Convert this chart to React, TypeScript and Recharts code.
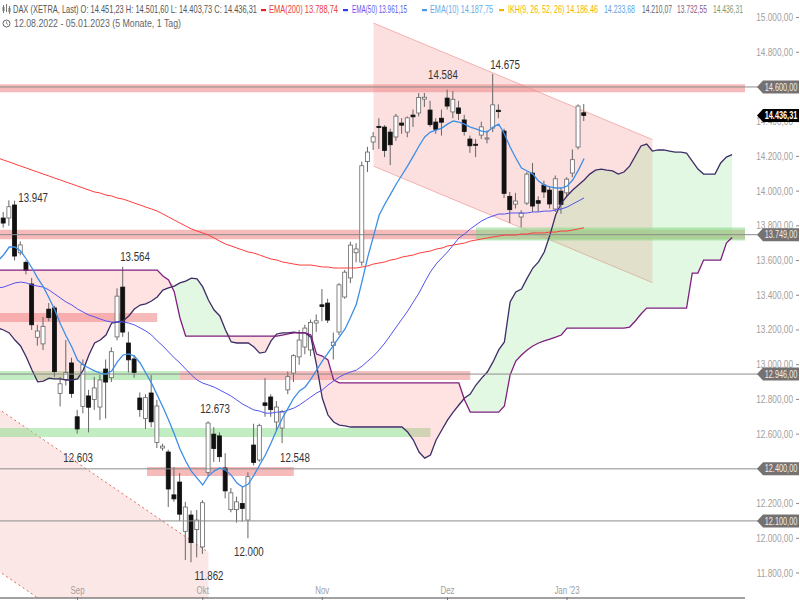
import React from "react";
import {
  ComposedChart,
  XAxis,
  YAxis,
  Bar,
  Line,
  Area,
  ReferenceArea,
  ReferenceLine,
  ReferenceDot,
} from "recharts";

// daily candles 12.08.2022 - 05.01.2023 (index 0 = 12.08.)
const OPEN = [
  13730, 13845, 13845, 13920, 13645, 13590, 13465, 13158, 13120, 13320,
  13327, 12835, 12915, 13010, 12700, 12760, 12820, 12800, 12756, 12975,
  12925, 13160, 13447, 13125, 13033, 12808, 12690, 12837, 12552, 12520,
  12497, 12250, 12324, 12040, 12134, 12050, 11950, 12380, 12600, 12590,
  12405, 12165, 12165, 12200, 12105, 12537, 12451, 12780, 12814, 12670,
  12635, 12855, 12952, 13045, 13102, 13085, 13240, 13345, 13355, 13110,
  13188, 13390, 13500, 13645, 13591, 14170, 14283, 14373, 14369, 14340,
  14312, 14392, 14340, 14438, 14450, 14530, 14467, 14398, 14420, 14536,
  14456, 14479, 14410, 14300, 14270, 14323, 14300, 14363, 14466, 14346,
  13970, 13925, 13851, 13931, 14104, 13945, 14035, 14006, 13897, 14000,
  13990, 14104, 14254, 14451.23,
];
const HIGH = [
  13800, 13880, 13947, 13945, 13710, 13600, 13500, 13230, 13275, 13355,
  13340, 12930, 13142, 13040, 12740, 13030, 12855, 12930, 12941, 13030,
  13100, 13440, 13564, 13190, 13056, 12840, 12830, 12940, 12797, 12545,
  12510, 12410, 12376, 12210, 12160, 12163, 12220, 12673, 12640, 12610,
  12490, 12290, 12240, 12295, 12380, 12660, 12660, 12923, 12830, 12790,
  12740, 12960, 13060, 13200, 13230, 13260, 13290, 13436, 13380, 13185,
  13470, 13545, 13708, 13700, 14170, 14255, 14340, 14420, 14380, 14360,
  14445, 14420, 14430, 14470, 14565, 14565, 14520, 14420, 14470, 14584,
  14576, 14520, 14440, 14320, 14300, 14400, 14350, 14675, 14500, 14360,
  13995, 13990, 13890, 14110, 14162, 13970, 14060, 14030, 14090, 14020,
  14080, 14240, 14500, 14501.6,
];
const LOW = [
  13700, 13790, 13800, 13600, 13630, 13520, 13200, 13110, 13085, 13250,
  12930, 12760, 12880, 12810, 12603, 12720, 12610, 12740, 12681, 12690,
  12900, 13140, 13160, 12955, 12925, 12700, 12630, 12640, 12520, 12505,
  12180, 12210, 12100, 11875, 11862, 11890, 11910, 12360, 12440, 12440,
  12230, 12150, 12090, 12095, 12000, 12420, 12440, 12700, 12700, 12620,
  12548, 12830, 12900, 13000, 13060, 13050, 13190, 13250, 13240, 13030,
  13170, 13380, 13470, 13590, 13570, 14110, 14237, 14243, 14196, 14150,
  14290, 14330, 14310, 14370, 14430, 14485, 14370, 14330, 14320, 14470,
  14420, 14410, 14320, 14220, 14196, 14300, 14275, 14340, 14420, 13960,
  13816, 13900, 13792, 13920, 13880, 13880, 13960, 13900, 13880, 13870,
  13970, 14080, 14240, 14403.73,
];
const CLOSE = [
  13775, 13816, 13910, 13626, 13690, 13544, 13230, 13194, 13221, 13271,
  12960, 12890, 12955, 12834, 12630, 13000, 12755, 12866, 12912, 12900,
  13075, 13395, 13188, 13028, 12956, 12741, 12810, 12671, 12762, 12531,
  12284, 12227, 12139, 12180, 11975, 12105, 12205, 12664, 12517, 12470,
  12273, 12262, 12210, 12172, 12355, 12437, 12649, 12765, 12741, 12756,
  12731, 12931, 13052, 13142, 13211, 13243, 13253, 13335, 13257, 13130,
  13460, 13533, 13689, 13667, 14146, 14225, 14313, 14366, 14234, 14267,
  14432, 14380, 14422, 14428, 14539, 14541, 14383, 14356, 14397, 14490,
  14529, 14448, 14343, 14261, 14264, 14370, 14306, 14497, 14458, 13987,
  13893, 13943, 13873, 14098, 13914, 13930, 13995, 13926, 14071, 13924,
  14069, 14181, 14490, 14436.31,
];

const EMA10 = [
  13597, 13632, 13678, 13678, 13655, 13609, 13557, 13499, 13448, 13384,
  13315, 13234, 13165, 13102, 13027, 12998, 12981, 12964, 12952, 12946,
  12964, 13016, 13056, 13062, 13050, 13010, 12952, 12894, 12825, 12756,
  12681, 12601, 12514, 12445, 12387, 12347, 12307, 12359, 12387, 12405,
  12393, 12364, 12318, 12295, 12312, 12364, 12422, 12480, 12549, 12624,
  12693, 12750, 12808, 12849, 12872, 12917, 12969, 13021, 13067, 13113,
  13160, 13206, 13275, 13350, 13482, 13621, 13741, 13862, 13926, 13983,
  14041, 14093, 14145, 14202, 14260, 14312, 14340, 14352, 14363, 14386,
  14404, 14398, 14386, 14369, 14358, 14346, 14340, 14369, 14386, 14329,
  14254, 14191, 14133, 14116, 14098, 14058, 14035, 14024, 14018, 14018,
  14029, 14064, 14121, 14188,
];
const EMA50 = [
  13442, 13447, 13459, 13471, 13476, 13471, 13459, 13453, 13447, 13430,
  13407, 13384, 13361, 13344, 13321, 13303, 13286, 13275, 13263, 13252,
  13246, 13246, 13246, 13240, 13229, 13212, 13194, 13171, 13137, 13108,
  13073, 13039, 13010, 12975, 12941, 12912, 12894, 12883, 12871, 12854,
  12837, 12819, 12796, 12773, 12756, 12739, 12733, 12721, 12721, 12727,
  12727, 12739, 12750, 12768, 12791, 12814, 12837, 12854, 12883, 12906,
  12929, 12946, 12958, 12969, 12992, 13021, 13050, 13085, 13125, 13171,
  13217, 13263, 13309, 13361, 13413, 13476, 13534, 13580, 13615, 13649,
  13689, 13730, 13753, 13782, 13805, 13828, 13845, 13857, 13868, 13868,
  13874, 13874, 13874, 13874, 13880, 13880, 13885, 13885, 13891, 13897,
  13908, 13926, 13943, 13961,
];
const EMA200 = [
  14191, 14179, 14168, 14156, 14144, 14133, 14121, 14110, 14098, 14087,
  14075, 14064, 14052, 14041, 14029, 14018, 14006, 13995, 13989, 13977,
  13972, 13960, 13954, 13943, 13931, 13920, 13908, 13897, 13885, 13868,
  13851, 13833, 13816, 13799, 13782, 13770, 13759, 13747, 13730, 13712,
  13695, 13684, 13672, 13661, 13649, 13643, 13632, 13620, 13609, 13603,
  13592, 13586, 13580, 13574, 13574, 13574, 13569, 13563, 13563, 13557,
  13557, 13557, 13557, 13557, 13563, 13569, 13580, 13586, 13592, 13603,
  13609, 13620, 13626, 13632, 13643, 13649, 13655, 13666, 13672, 13684,
  13689, 13695, 13701, 13712, 13718, 13724, 13730, 13736, 13741, 13747,
  13747, 13747, 13753, 13753, 13759, 13759, 13759, 13764, 13764, 13770,
  13770, 13776, 13782, 13789,
];

// Ichimoku spans, drawn 26 sessions ahead (130 values)
const SPAN_A = [
  13211, 13200, 13183, 13142, 13108, 13044, 12969, 12901, 12906, 12923,
  12918, 12918, 12912, 12912, 12918, 12969, 13056, 13125, 13142, 13171,
  13240, 13246, 13252, 13281, 13321, 13344, 13350, 13367, 13390, 13430,
  13442, 13453, 13471, 13482, 13499, 13494, 13448, 13373, 13315, 13281,
  13200, 13131, 13125, 13125, 13125, 13102, 13067, 13073, 13137, 13177,
  13183, 13183, 13188, 13183, 13183, 13159, 12998, 12808, 12710, 12670,
  12652, 12647, 12641, 12641, 12641, 12641, 12641, 12641, 12641, 12641,
  12641, 12641, 12612, 12566, 12497, 12462, 12480, 12566, 12624, 12681,
  12727, 12768, 12808, 12831, 12883, 12923, 12958, 13016, 13085, 13131,
  13361, 13419, 13436, 13499, 13557, 13592, 13649, 13747, 13862, 13931,
  13972, 14006, 14035, 14064, 14098, 14121, 14127, 14121, 14116, 14098,
  14110, 14144, 14202, 14260, 14271, 14231, 14237, 14237, 14231, 14225,
  14225, 14219, 14173, 14127, 14098, 14098, 14098, 14162, 14196, 14210,
];
const SPAN_B = [
  13545, 13545, 13545, 13545, 13545, 13545, 13545, 13545, 13545, 13545,
  13545, 13545, 13545, 13545, 13545, 13545, 13545, 13545, 13545, 13545,
  13545, 13545, 13545, 13545, 13545, 13545, 13545, 13545, 13545, 13511,
  13488, 13419, 13269, 13165, 13165, 13165, 13165, 13165, 13165, 13165,
  13165, 13165, 13165, 13165, 13165, 13165, 13165, 13165, 13165, 13165,
  13171, 13177, 13183, 13183, 13183, 13171, 13061, 13050, 13027, 12912,
  12895, 12895, 12895, 12895, 12895, 12895, 12895, 12895, 12895, 12895,
  12895, 12895, 12895, 12895, 12895, 12895, 12895, 12895, 12895, 12895,
  12895, 12895, 12797, 12727, 12727, 12727, 12727, 12727, 12727, 12762,
  12941, 13021, 13056, 13085, 13108, 13125, 13137, 13148, 13159, 13171,
  13211, 13211, 13211, 13211, 13211, 13211, 13211, 13211, 13211, 13211,
  13211, 13217, 13252, 13292, 13326, 13326, 13326, 13326, 13326, 13326,
  13326, 13326, 13528, 13528, 13603, 13603, 13603, 13603, 13701, 13733,
];

// drawn trend channels: [index, lower edge, upper edge]
const CHANNEL_UP = [
  { i: 66, band: [14144, 14968] },
  { i: 115, band: [13473, 14297] },
];
const CHANNEL_DOWN = [
  { i: 0, band: [11814, 12748] },
  { i: 37, band: [10985, 11919] },
];

const LEVELS = [14600, 13749, 12946, 12400, 12100];
const LAST_PRICE = 14436.31;

const MONTH_TICKS = [14, 36, 57, 79, 100];
const MONTH_LABELS = ["Sep", "Okt", "Nov", "Dez", "Jan '23"];
// 14.600 and 12.400 sit under their level tags
const PRICE_TICKS = [
  11800, 12000, 12200, 12600, 12800, 13000, 13200, 13400, 13600,
  13800, 14000, 14200, 14400, 14800, 15000,
];

// swing high / low annotations (label centre index, baseline price)
const PEAKS = [
  { i: 6.2, v: 13940, text: "13.947" },
  { i: 24.1, v: 13597, text: "13.564" },
  { i: 14.1, v: 12439, text: "12.603" },
  { i: 38.15, v: 12722, text: "12.673" },
  { i: 37.1, v: 11760, text: "11.862" },
  { i: 44.1, v: 11898, text: "12.000" },
  { i: 52.2, v: 12439, text: "12.548" },
  { i: 78.2, v: 14646, text: "14.584" },
  { i: 89.1, v: 14703, text: "14.675" },
];

const SQ = 0.72;
const FONT = "'Liberation Sans', Arial, sans-serif";

const rows = SPAN_A.map((a, i) => {
  const b = SPAN_B[i];
  const top = Math.max(a, b);
  const row: any = { i, a, b, bull: [b, top], bear: [a, top] };
  if (i < CLOSE.length) {
    row.o = OPEN[i];
    row.h = HIGH[i];
    row.l = LOW[i];
    row.c = CLOSE[i];
    row.range = [LOW[i], HIGH[i]];
    row.ema10 = EMA10[i];
    row.ema50 = EMA50[i];
    row.ema200 = EMA200[i];
  }
  return row;
});

const fmt = (v: number) => {
  const [int, dec] = v.toFixed(2).split(".");
  return int.replace(/\B(?=(\d{3})+(?!\d))/g, ".") + "," + dec;
};

// the source screenshot is squeezed horizontally, so is the text here
const SqText = ({ x, y, size, fill, anchor = "start", weight, width, children }: any) => (
  <text
    transform={`translate(${x},${y}) scale(${SQ},1)`}
    fontSize={size}
    fill={fill}
    textAnchor={anchor}
    fontFamily={FONT}
    fontWeight={weight}
    textLength={width ? width / SQ : undefined}
    lengthAdjust={width ? "spacingAndGlyphs" : undefined}
  >
    {children}
  </text>
);

const Candle = (props: any) => {
  const { x, y, width, height, payload } = props;
  if (!payload || payload.o == null || !height) return null;
  const { o, h, l, c } = payload;
  const cx = x + width / 2;
  const k = height / (h - l);
  const yOf = (v: number) => y + (h - v) * k;
  const up = c >= o;
  const top = yOf(Math.max(o, c));
  const bodyH = Math.max(1, yOf(Math.min(o, c)) - top);
  return (
    <g>
      <line x1={cx} x2={cx} y1={y} y2={y + height} stroke="#666" strokeWidth={1} />
      <rect
        x={cx - 2}
        y={top}
        width={4}
        height={bodyH}
        fill={up ? "#ffffff" : "#111111"}
        stroke={up ? "#666" : "#111"}
        strokeWidth={0.8}
      />
    </g>
  );
};

const PriceTick = (props: any) => {
  const { y, payload } = props;
  return (
    <g>
      <SqText x={793} y={y + 3.5} size={11.5} fill="#a0a0a0" anchor="end">
        {fmt(payload.value)}
      </SqText>
      <line x1={796} x2={799} y1={y} y2={y} stroke="#888" />
    </g>
  );
};

const TagTick = (props: any) => {
  const { y, payload } = props;
  const dark = Math.abs(payload.value - LAST_PRICE) < 0.001;
  return (
    <g>
      {!dark && <line x1={745} x2={758} y1={y} y2={y} stroke="#8c8c8c" />}
      <path
        d={`M757,${y} L763,${y - 6.5} L799,${y - 6.5} L799,${y + 6.5} L763,${y + 6.5} Z`}
        fill={dark ? "#000" : "#757171"}
      />
      <SqText x={781} y={y + 3.6} size={10.2} fill={dark ? "#fff" : "#eeeeee"} anchor="middle" weight={dark ? 700 : 400}>
        {fmt(payload.value)}
      </SqText>
    </g>
  );
};

const MonthTick = (props: any) => {
  const { x, payload } = props;
  const label = MONTH_LABELS[MONTH_TICKS.indexOf(payload.value)];
  return (
    <g>
      <line x1={x} x2={x} y1={597} y2={600} stroke="#777" />
      <SqText x={x} y={594} size={11} fill="#a0a0a0" anchor="middle">
        {label}
      </SqText>
    </g>
  );
};

const peakLabel = (text: string) => (props: any) => {
  const vb = props.viewBox || {};
  const x = (vb.x || 0) + (vb.width || 0) / 2;
  const y = (vb.y || 0) + (vb.height || 0) / 2;
  return (
    <SqText x={x} y={y} size={13.5} fill="#333" anchor="middle">
      {text}
    </SqText>
  );
};

const Header = () => {
  const seg = (x: number, w: number, fill: string, t: string, y = 13) => (
    <SqText x={x} y={y} size={10.3} fill={fill} width={w}>
      {t}
    </SqText>
  );
  return (
    <svg width={800} height={32} style={{ position: "absolute", left: 0, top: 0 }}>
      <g stroke="#777" strokeWidth={1}>
        <line x1={3.5} x2={3.5} y1={5} y2={13} />
        <line x1={6.5} x2={6.5} y1={4} y2={12} />
        <line x1={9.5} x2={9.5} y1={6} y2={14} />
      </g>
      <rect x={2.5} y={7} width={2} height={4} fill="#777" />
      <rect x={8.5} y={8} width={2} height={4} fill="#777" />
      {seg(13, 244, "#555", "DAX (XETRA, Last) O: 14.451,23 H: 14.501,60 L: 14.403,73 C: 14.436,31")}
      <rect x={261} y={9} width={5} height={2.2} fill="#e82020" />
      {seg(269, 69, "#e84040", "EMA(200)  13.788,74")}
      <rect x={343} y={9} width={5} height={2.2} fill="#3838f0" />
      {seg(352, 55, "#5a5af0", "EMA(50)  13.961,15")}
      <rect x={422} y={9} width={5} height={2.2} fill="#4a9ae8" />
      {seg(430, 63, "#6aaae8", "EMA(10)  14.187,75")}
      <rect x={499} y={9} width={5} height={2.2} fill="#f2b400" />
      {seg(508, 90, "#f2b400", "IKH(9, 26, 52, 26)  14.186,46")}
      {seg(604, 31, "#5ea4e0", "14.233,68")}
      {seg(642, 30, "#666", "14.210,07")}
      {seg(677, 30, "#8a5a8a", "13.732,55")}
      {seg(713, 30, "#7a9a7a", "14.436,31")}
      <circle cx={6.5} cy={23.5} r={3.5} fill="none" stroke="#666" strokeWidth={1} />
      <path d="M6.5,21.5 L6.5,23.5 L8,24.5" fill="none" stroke="#666" strokeWidth={0.8} />
      {seg(14, 167, "#666", "12.08.2022 - 05.01.2023   (5 Monate, 1 Tag)", 27)}
    </svg>
  );
};

export default function App() {
  return (
    <div style={{ position: "absolute", left: 0, top: 0, width: 800, height: 600, background: "#fff" }}>
      <ComposedChart width={800} height={600} data={rows} margin={{ top: 0, right: 0, bottom: 0, left: 0 }}>
        <XAxis
          dataKey="i"
          type="number"
          domain={[0.38, 131.27]}
          allowDataOverflow
          ticks={MONTH_TICKS}
          interval={0}
          height={2}
          tickLine={false}
          axisLine={{ stroke: "#444" }}
          tick={<MonthTick />}
        />
        <YAxis
          orientation="right"
          type="number"
          domain={[11656, 15101]}
          allowDataOverflow
          ticks={PRICE_TICKS}
          interval={0}
          width={54}
          axisLine={false}
          tickLine={false}
          tick={<PriceTick />}
        />
        <YAxis
          yAxisId="tags"
          orientation="right"
          type="number"
          domain={[11656, 15101]}
          allowDataOverflow
          ticks={[...LEVELS, LAST_PRICE]}
          interval={0}
          width={1}
          axisLine={false}
          tickLine={false}
          tick={<TagTick />}
        />

        <Area
          data={CHANNEL_DOWN}
          dataKey="band"
          type="linear"
          fill="#f4a0a0"
          fillOpacity={0.25}
          stroke="#e06a5a"
          strokeWidth={1}
          strokeDasharray="2 3"
          connectNulls
          isAnimationActive={false}
        />
        <Area
          data={CHANNEL_UP}
          dataKey="band"
          type="linear"
          fill="#f49090"
          fillOpacity={0.28}
          stroke="#f4b0b0"
          strokeWidth={1}
          connectNulls
          isAnimationActive={false}
        />

        <ReferenceArea y1={14570} y2={14615} fill="#f08c8c" fillOpacity={0.6} stroke="none" />
        <ReferenceArea y1={13722} y2={13778} fill="#f08c8c" fillOpacity={0.6} stroke="none" />
        <ReferenceArea x1={84} y1={13715} y2={13790} fill="#90dc90" fillOpacity={0.6} stroke="none" />
        <ReferenceArea x2={28} y1={13246} y2={13298} fill="#f08c8c" fillOpacity={0.6} stroke="none" />
        <ReferenceArea x2={32} y1={12912} y2={12964} fill="#90dc90" fillOpacity={0.55} stroke="none" />
        <ReferenceArea x1={32} x2={83} y1={12912} y2={12964} fill="#f08c8c" fillOpacity={0.55} stroke="none" />
        <ReferenceArea x2={76} y1={12583} y2={12635} fill="#90dc90" fillOpacity={0.55} stroke="none" />
        <ReferenceArea x1={26.2} x2={52} y1={12359} y2={12410} fill="#f08c8c" fillOpacity={0.6} stroke="none" />

        <Area dataKey="bull" type="linear" fill="#7fe07f" fillOpacity={0.22} stroke="none" isAnimationActive={false} />
        <Area dataKey="bear" type="linear" fill="#ff8c8c" fillOpacity={0.25} stroke="none" isAnimationActive={false} />
        <Line dataKey="a" type="linear" stroke="#3d2d66" strokeWidth={1.3} dot={false} isAnimationActive={false} />
        <Line dataKey="b" type="linear" stroke="#7f1f80" strokeWidth={1.3} dot={false} isAnimationActive={false} />

        {LEVELS.map((v) => (
          <ReferenceLine key={v} y={v} stroke="#8c8c8c" strokeWidth={1} />
        ))}

        <Line dataKey="ema200" type="linear" stroke="#ff3b3b" strokeWidth={1} dot={false} isAnimationActive={false} />
        <Line dataKey="ema50" type="linear" stroke="#5353ee" strokeWidth={1} dot={false} isAnimationActive={false} />
        <Line dataKey="ema10" type="linear" stroke="#3d8ee6" strokeWidth={1.3} dot={false} isAnimationActive={false} />

        <Bar dataKey="range" barSize={5} shape={<Candle />} isAnimationActive={false} />

        {PEAKS.map((p) => (
          <ReferenceDot key={p.text} x={p.i} y={p.v} r={0} fill="none" stroke="none" label={peakLabel(p.text)} />
        ))}
      </ComposedChart>
      <Header />
    </div>
  );
}
